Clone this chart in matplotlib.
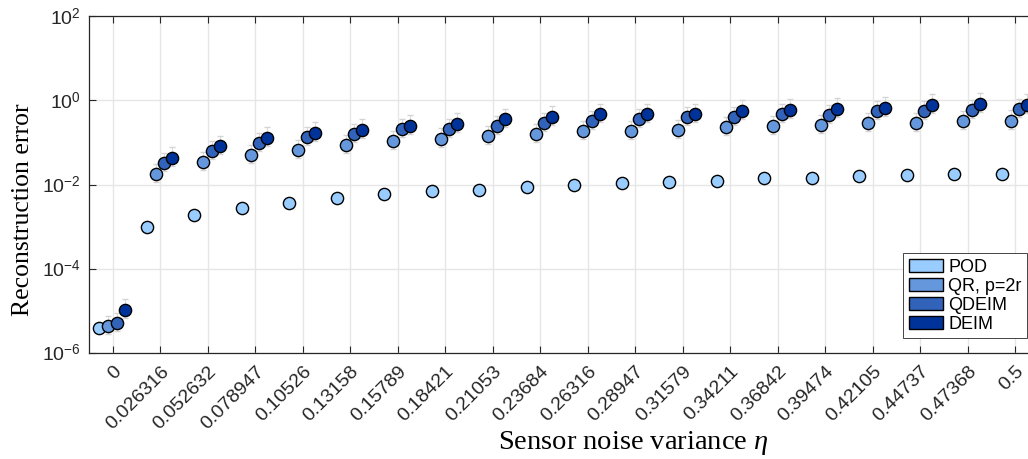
import matplotlib.pyplot as plt
import numpy as np
from matplotlib.patches import Patch

plt.rcParams['font.family'] = 'Liberation Sans'
plt.rcParams['mathtext.fontset'] = 'custom'
plt.rcParams['mathtext.rm'] = 'Liberation Sans'
plt.rcParams['mathtext.it'] = 'Liberation Serif:italic'

# noise levels (tick labels as printed)
eta_labels = ['0', '0.026316', '0.052632', '0.078947', '0.10526', '0.13158', '0.15789',
              '0.18421', '0.21053', '0.23684', '0.26316', '0.28947', '0.31579', '0.34211',
              '0.36842', '0.39474', '0.42105', '0.44737', '0.47368', '0.5']

err_pod = [4.0e-6, 9.6e-4, 0.0019, 0.0028, 0.0037, 0.0049, 0.0059, 0.0072, 0.0076, 0.0086,
           0.0096, 0.0107, 0.0116, 0.0124, 0.0141, 0.0141, 0.0158, 0.017, 0.018, 0.018]
err_qr = [4.4e-6, 0.018, 0.034, 0.049, 0.067, 0.085, 0.11, 0.123, 0.139, 0.155,
          0.186, 0.19, 0.20, 0.23, 0.245, 0.26, 0.29, 0.29, 0.32, 0.33]
err_qdeim = [5.2e-6, 0.033, 0.062, 0.096, 0.134, 0.156, 0.204, 0.21, 0.25, 0.29,
             0.32, 0.35, 0.39, 0.40, 0.46, 0.45, 0.55, 0.56, 0.59, 0.62]
err_deim = [1.05e-5, 0.043, 0.08, 0.127, 0.17, 0.20, 0.245, 0.28, 0.35, 0.41,
            0.46, 0.46, 0.46, 0.56, 0.59, 0.62, 0.66, 0.76, 0.80, 0.76]

# spread of the runs below / above each mean, in decades
spread_lo = {'POD': 0.04, 'QR, p=2r': 0.19, 'QDEIM': 0.19, 'DEIM': 0.19}
spread_hi = {'POD': 0.04, 'QR, p=2r': 0.24, 'QDEIM': 0.24, 'DEIM': 0.26}

series = [('POD', err_pod, '#99ccff', -0.28),
          ('QR, p=2r', err_qr, '#6497dc', -0.093),
          ('QDEIM', err_qdeim, '#3163ba', 0.085),
          ('DEIM', err_deim, '#003399', 0.25)]

fig = plt.figure(figsize=(10.28, 4.59), dpi=100)
ax = fig.add_axes([89 / 1028, 106 / 459, 950 / 1028, 337 / 459])

x = np.arange(len(eta_labels))
handles = []
for name, vals, color, off in series:
    vals = np.array(vals)
    lo = vals * (1 - 10 ** -spread_lo[name])
    hi = vals * (10 ** spread_hi[name] - 1)
    _, caps, bars = ax.errorbar(x + off, vals, yerr=[lo, hi], fmt='none', ecolor='#d4d4d4',
                                elinewidth=0.6, capsize=2.5, capthick=1.0, zorder=2)
    caps[0].set_color('#1a1a1a')
    caps[1].set_color('#a8a8a8')
    ax.plot(x + off, vals, 'o', ms=8.8, mfc=color, mec='black', mew=1.0, zorder=3)
    handles.append(Patch(facecolor=color, edgecolor='black', linewidth=1.0, label=name))

ax.set_yscale('log')
ax.set_ylim(1e-6, 1e2)
ax.set_yticks([1e-6, 1e-4, 1e-2, 1e0, 1e2])
ax.set_yticklabels(['$10^{-6}$', '$10^{-4}$', '$10^{-2}$', '$10^{0}$', '$10^{2}$'])
ax.minorticks_off()
ax.set_xlim(-0.5, 19.5)
ax.set_xticks(x)
ax.set_xticklabels(eta_labels, rotation=45, ha='right', rotation_mode='anchor')

ax.tick_params(direction='in', length=5, width=0.8, color='#262626', labelsize=14,
               top=True, right=True, labelcolor='#262626')
ax.tick_params(axis='y', pad=6)
ax.tick_params(axis='x', pad=7)
ax.grid(True, color='#e6e6e6', lw=1.0, zorder=0)
ax.set_axisbelow(True)
for sp in ax.spines.values():
    sp.set_color('#262626')
    sp.set_linewidth(0.9)

ax.set_xlabel(r'Sensor noise variance $\eta$', family='Liberation Serif', fontsize=20.5)
ax.xaxis.set_label_coords((633 - 89) / 950, -0.225)
ax.set_ylabel('Reconstruction error', family='Liberation Serif', fontsize=18.5)
ax.yaxis.set_label_coords(-0.058, 0.424)

leg = ax.legend(handles=handles, loc='lower left', bbox_to_anchor=(0.857, 0.044),
                fontsize=13, frameon=True, fancybox=False, framealpha=1, edgecolor='#262626',
                handlelength=1.9, handleheight=0.8, handletextpad=0.3, labelspacing=0.1,
                borderpad=0.3, borderaxespad=0)
leg.get_frame().set_linewidth(0.6)

fig.savefig('out.png', dpi=100)
